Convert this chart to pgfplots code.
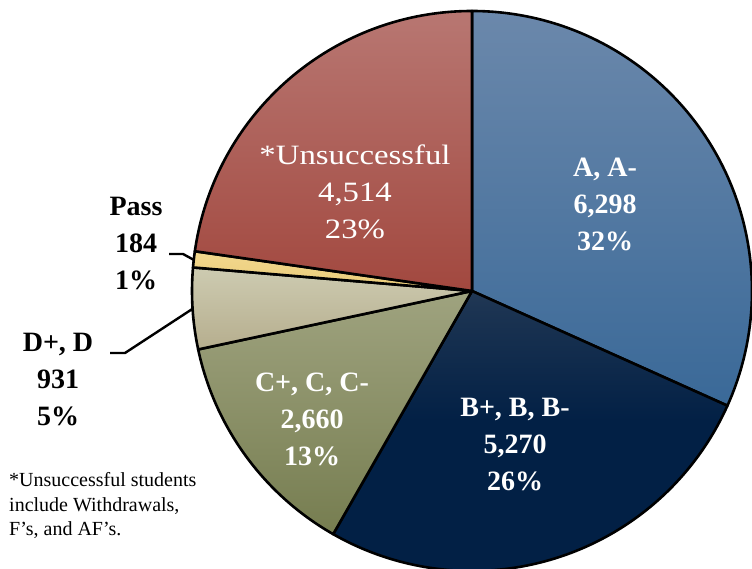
\documentclass[border=0pt]{standalone}
\usepackage{pgfplots}
\pgfplotsset{compat=1.18}
\usepackage{pgfplotstable}
\usepackage{fontspec}
\setmainfont{Liberation Serif}
\newfontfamily\widefont{Liberation Serif}[FakeStretch=1.17]

\pgfplotstableread{
grade value
A 6298
B 5270
C 2660
D 931
P 184
U 4514
}\gradetable

\newcommand\getv[2]{\pgfplotstablegetelem{#1}{value}\of\gradetable\pgfmathsetmacro#2{\pgfplotsretval/1000}}
\getv{0}\vA \getv{1}\vB \getv{2}\vC \getv{3}\vD \getv{4}\vP \getv{5}\vU
\pgfmathsetmacro\T{\vA+\vB+\vC+\vD+\vP+\vU}
\pgfmathsetmacro\aA{90-360*\vA/\T}
\pgfmathsetmacro\aB{\aA-360*\vB/\T}
\pgfmathsetmacro\aC{\aB-360*\vC/\T}
\pgfmathsetmacro\aD{\aC-360*\vD/\T}
\pgfmathsetmacro\aP{\aD-360*\vP/\T}
\pgfmathsetmacro\aU{\aP-360*\vU/\T}

\definecolor{Atop}{HTML}{6B88AB}\definecolor{Abot}{HTML}{3A6998}
\definecolor{Btop}{HTML}{4E576B}\definecolor{Bmid}{HTML}{1C3452}\definecolor{Bbot}{HTML}{022045}
\definecolor{Ctop}{HTML}{9FA37F}\definecolor{Cbot}{HTML}{767D50}
\definecolor{Dtop}{HTML}{CDCBB1}\definecolor{Dbot}{HTML}{B6AE8E}
\definecolor{Ptop}{HTML}{F2D88E}\definecolor{Pbot}{HTML}{EACB78}
\definecolor{Utop}{HTML}{B87772}\definecolor{Ubot}{HTML}{A2483F}
\pgfdeclareverticalshading{Bshade}{100bp}{color(0bp)=(Bbot); color(52bp)=(Bbot); color(72bp)=(Bmid); color(100bp)=(Btop)}

\newcommand\slice[3]{\draw[line width=2.6pt, line join=round, #3] (axis cs:472,278) -- ++(#1:280pt) arc[start angle=#1, end angle=#2, radius=280pt] -- cycle;}
\newcommand\lbl[6]{%
 \node[#6, anchor=base] at (axis cs:#1,{569-#2}) {#3};
 \node[#6, anchor=base] at (axis cs:#1,{569-#2-37}) {#4};
 \node[#6, anchor=base] at (axis cs:#1,{569-#2-74}) {#5};}

\begin{document}
\begin{tikzpicture}
\begin{axis}[width=752pt, height=569pt, scale only axis,
  xmin=0, xmax=752, ymin=0, ymax=569, enlargelimits=false,
  hide axis, clip=false]
\coordinate (SW) at (axis cs:0,0);
\coordinate (NE) at (axis cs:752,569);
\slice{90}{\aA}{top color=Atop, bottom color=Abot}
\slice{\aA}{\aB}{shading=Bshade}
\slice{\aB}{\aC}{top color=Ctop, bottom color=Cbot}
\slice{\aC}{\aD}{top color=Dtop, bottom color=Dbot}
\slice{\aD}{\aP}{top color=Ptop, bottom color=Pbot}
\slice{\aP}{\aU}{top color=Utop, bottom color=Ubot}
% leader lines
\draw[line width=2.4pt] (axis cs:169,315) -- (axis cs:183,315) -- (axis cs:194,309);
\draw[line width=2.4pt] (axis cs:110,216) -- (axis cs:125,216) -- (axis cs:192.6,260.2);
% labels
\lbl{605}{177}{A, A-}{6,298}{32\%}{text=white, font=\fontsize{28}{34}\selectfont\bfseries}
\lbl{355}{165}{*Unsuccessful}{4,514}{23\%}{text=white, font=\fontsize{28}{34}\widefont}
\lbl{515}{417}{B+, B, B-}{5,270}{26\%}{text=white, font=\fontsize{28}{34}\selectfont\bfseries}
\lbl{312}{392}{C+, C, C-}{2,660}{13\%}{text=white, font=\fontsize{28}{34}\selectfont\bfseries}
\lbl{58}{352}{D+, D}{931}{5\%}{text=black, font=\fontsize{28}{34}\selectfont\bfseries}
\lbl{136}{216}{Pass}{184}{1\%}{text=black, font=\fontsize{28}{34}\selectfont\bfseries}
\node[anchor=base west, inner sep=0pt, font=\fontsize{20}{24}\selectfont] at (axis cs:9,{569-487}) {*Unsuccessful students};
\node[anchor=base west, inner sep=0pt, font=\fontsize{20}{24}\selectfont] at (axis cs:9,{569-512}) {include Withdrawals,};
\node[anchor=base west, inner sep=0pt, font=\fontsize{20}{24}\selectfont] at (axis cs:9,{569-536}) {F’s, and AF’s.};
\end{axis}
\pgfresetboundingbox
\path (SW) rectangle (NE);
\end{tikzpicture}
\end{document}
